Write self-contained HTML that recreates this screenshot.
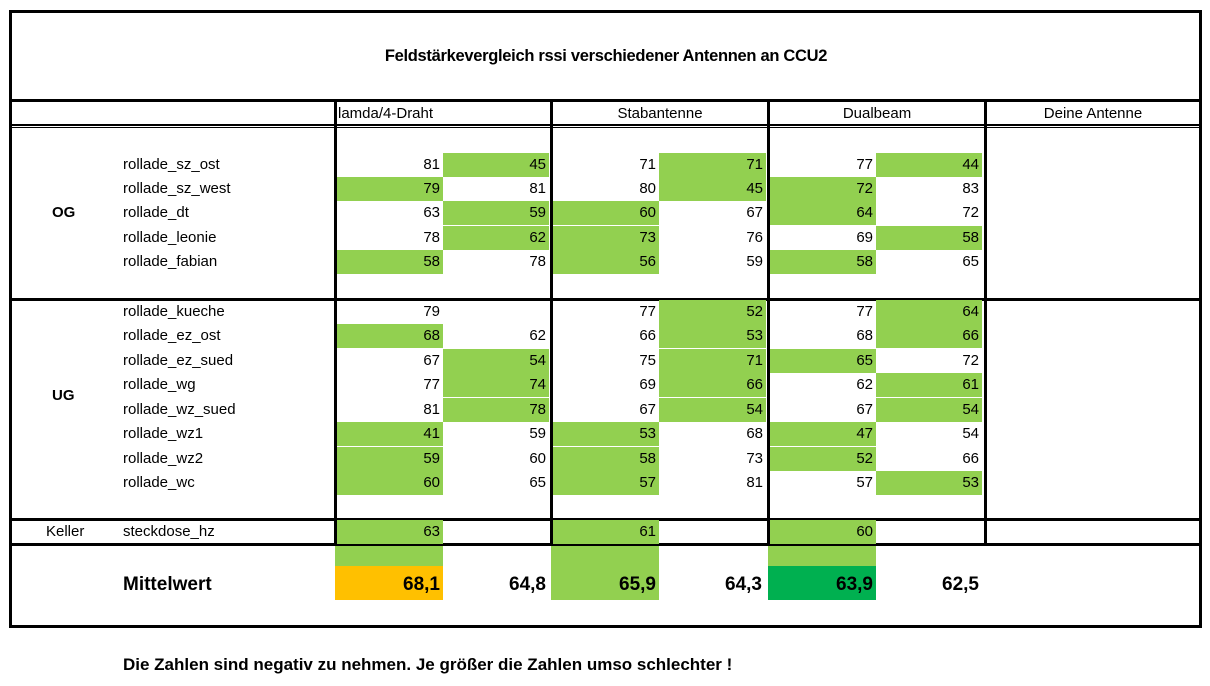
<!DOCTYPE html>
<html><head><meta charset="utf-8">
<style>
html,body{margin:0;padding:0;background:#fff;}
body{width:1210px;height:686px;position:relative;overflow:hidden;font-family:"Liberation Sans",sans-serif;color:#000;}
.a{position:absolute;}
.ln{position:absolute;background:#000;}
.t{position:absolute;font-size:15px;line-height:24px;white-space:nowrap;}
.num{position:absolute;font-size:15px;line-height:24px;text-align:right;padding-right:3px;box-sizing:border-box;}
.g{background:#92D050;}
</style></head>
<body>
<div id="tbl">
<div class="ln" style="left:9px;top:10px;width:1193px;height:3px"></div>
<div class="ln" style="left:9px;top:625px;width:1193px;height:3px"></div>
<div class="ln" style="left:9px;top:10px;width:3px;height:618px"></div>
<div class="ln" style="left:1199px;top:10px;width:3px;height:618px"></div>
<div class="a" style="left:10px;top:43px;width:1192px;text-align:center;font-weight:bold;font-size:16.5px;letter-spacing:-0.3px;line-height:26px">Feldstärkevergleich rssi verschiedener Antennen an CCU2</div>
<div class="ln" style="left:10px;top:99px;width:1190px;height:3px"></div>
<div class="ln" style="left:10px;top:124px;width:1190px;height:2px"></div>
<div class="ln" style="left:10px;top:127px;width:1190px;height:1px"></div>
<div class="ln" style="left:10px;top:298px;width:1190px;height:3px"></div>
<div class="ln" style="left:10px;top:518px;width:1190px;height:3px"></div>
<div class="ln" style="left:10px;top:543px;width:1190px;height:3px"></div>
<div class="ln" style="left:334px;top:100px;width:3px;height:445px"></div>
<div class="ln" style="left:550px;top:100px;width:3px;height:445px"></div>
<div class="ln" style="left:767px;top:100px;width:3px;height:445px"></div>
<div class="ln" style="left:984px;top:100px;width:3px;height:445px"></div>
<div class="t" style="left:338px;top:102px">lamda/4-Draht</div>
<div class="t" style="left:553px;top:102px;width:214px;text-align:center">Stabantenne</div>
<div class="t" style="left:770px;top:102px;width:214px;text-align:center">Dualbeam</div>
<div class="t" style="left:987px;top:102px;width:212px;text-align:center">Deine Antenne</div>
<div class="t" style="left:52px;top:201px;font-weight:bold">OG</div>
<div class="t" style="left:52px;top:384px;font-weight:bold">UG</div>
<div class="t" style="left:46px;top:520px">Keller</div>
<div class="t" style="left:123px;top:573px;font-weight:bold;font-size:19px">Mittelwert</div>
<div class="a" style="left:123px;top:652px;font-weight:bold;font-size:17px;line-height:26px;white-space:nowrap">Die Zahlen sind negativ zu nehmen. Je größer die Zahlen umso schlechter !</div>
</div>
<script>
const rowNames=["rollade_sz_ost","rollade_sz_west","rollade_dt","rollade_leonie","rollade_fabian","rollade_kueche","rollade_ez_ost","rollade_ez_sued","rollade_wg","rollade_wz_sued","rollade_wz1","rollade_wz2","rollade_wc","steckdose_hz"];
const lamdaA=[81,79,63,78,58,79,68,67,77,81,41,59,60,63];
const lamdaB=[45,81,59,62,78,null,62,54,74,78,59,60,65,null];
const stabA=[71,80,60,73,56,77,66,75,69,67,53,58,57,61];
const stabB=[71,45,67,76,59,52,53,71,66,54,68,73,81,null];
const dualA=[77,72,64,69,58,77,68,65,62,67,47,52,57,60];
const dualB=[44,83,72,58,65,64,66,72,61,54,54,66,53,null];
const greenA=[0,1,0,0,1,0,1,0,0,0,1,1,1,1, 0,0,1,1,1,0,0,0,0,0,1,1,1,1, 0,1,1,0,1,0,0,1,0,0,1,1,0,1];
const greenB=[1,0,1,1,0,0,0,1,1,1,0,0,0,0, 1,1,0,0,0,1,1,1,1,1,0,0,0,0, 1,0,0,1,0,1,1,0,1,1,0,0,1,0];
const meanA=["68,1","65,9","63,9"];
const meanB=["64,8","64,3","62,5"];
const meanColors=["#FFC000","#92D050","#00B050"];
const rowTops=[153,177,201,226,250,300,324,349,373,398,422,447,471,520];
const colX=[337,553,770];
const cols=[[lamdaA,lamdaB],[stabA,stabB],[dualA,dualB]];
const root=document.getElementById('tbl');
rowNames.forEach((n,i)=>{
  const d=document.createElement('div');
  d.className='t';d.style.left='123px';d.style.top=rowTops[i]+'px';d.textContent=n;
  
  
  root.appendChild(d);
});
cols.forEach((pair,c)=>{
  pair.forEach((arr,s)=>{
    const gr=s===0?greenA:greenB;
    arr.forEach((v,i)=>{
      const d=document.createElement('div');
      d.className='num'+(gr[c*14+i]?' g':'');
      const w=s===0?106:108;
      d.style.left=(colX[c]+(s===0?0:106))+'px';
      d.style.width=(s===0?106:(c===0?108:108))+'px';
      if(s===1) d.style.width=(c===1?107:106)+'px';
      d.style.top=rowTops[i]+'px';d.style.height='24px';
      d.textContent=v===null?'':v;
      
      
      root.appendChild(d);
    });
  });
  const top=document.createElement('div');
  top.className='a g';top.style.left=colX[c]-2+'px';top.style.top='546px';top.style.width='108px';top.style.height='20px';
  if(c===0) top.style.left='335px';
  
  
  root.appendChild(top);
  const m=document.createElement('div');
  m.className='num';m.style.left=(c===0?335:colX[c]-2)+'px';m.style.top='566px';m.style.width='108px';m.style.height='34px';
  m.style.background=meanColors[c];m.style.fontWeight='bold';m.style.fontSize='19px';m.style.lineHeight='38px';
  m.textContent=meanA[c];
  
  
  root.appendChild(m);
  const m2=document.createElement('div');
  m2.className='num';m2.style.left=(colX[c]+106)+'px';m2.style.top='566px';m2.style.width='106px';m2.style.height='34px';
  m2.style.fontWeight='bold';m2.style.fontSize='19px';m2.style.lineHeight='38px';
  m2.textContent=meanB[c];
  
  
  root.appendChild(m2);
});
</script>
</body></html>
